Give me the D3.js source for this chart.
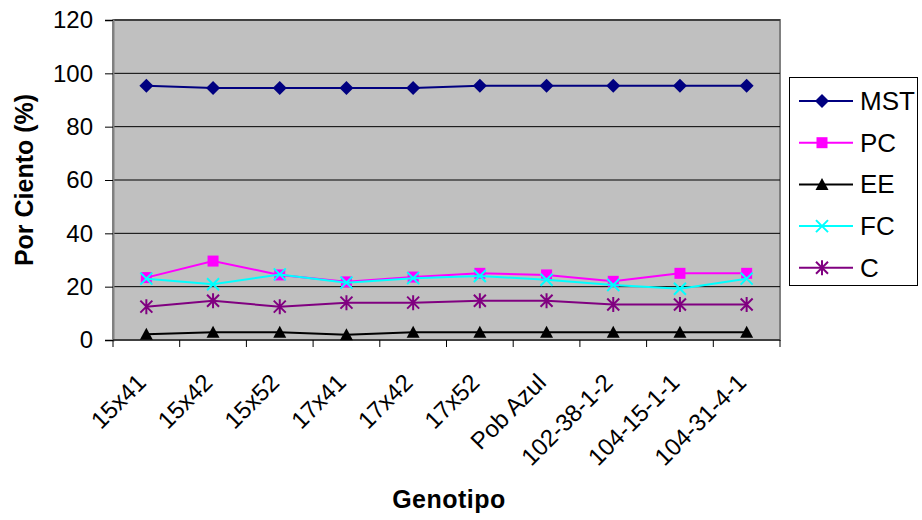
<!DOCTYPE html>
<html>
<head>
<meta charset="utf-8">
<script src="https://cdn.jsdelivr.net/npm/d3@7"></script>
<style>
  body { margin: 0; background: #fff; }
  svg { font-family: Arial, "Liberation Sans", sans-serif; }
</style>
</head>
<body>
<svg width="922" height="520"></svg>
<script>
const genotipos = ["15x41", "15x42", "15x52", "17x41", "17x42", "17x52", "Pob Azul", "102-38-1-2", "104-15-1-1", "104-31-4-1"];
const mst = [95.3, 94.5, 94.5, 94.5, 94.5, 95.3, 95.3, 95.3, 95.3, 95.3];
const pc = [23.4, 29.6, 24.4, 21.8, 23.6, 25.0, 24.4, 22.0, 25.0, 25.0];
const ee = [2.2, 2.9, 2.9, 2.0, 2.9, 2.9, 2.9, 2.9, 2.9, 2.9];
const fc = [23.0, 20.9, 24.6, 21.5, 23.2, 24.0, 22.6, 20.6, 19.2, 23.0];
const c = [12.5, 14.7, 12.5, 14.0, 14.0, 14.7, 14.7, 13.3, 13.3, 13.3];
const yTicks = [0, 20, 40, 60, 80, 100, 120];

const series = [
  { name: "MST", values: mst, color: "#000080", marker: "diamond" },
  { name: "PC", values: pc, color: "#ff00ff", marker: "square" },
  { name: "EE", values: ee, color: "#000000", marker: "triangle" },
  { name: "FC", values: fc, color: "#00ffff", marker: "x" },
  { name: "C", values: c, color: "#800080", marker: "star" }
];

const svg = d3.select("svg");
const plotLeft = 113, plotRight = 780, plotTop = 20, plotBottom = 340;

const x = d3.scaleBand().domain(genotipos).range([plotLeft, plotRight]);
const y = d3.scaleLinear().domain([0, 120]).range([plotBottom, plotTop]);
const cx = d => x(d) + x.bandwidth() / 2;

// plot area
svg.append("rect")
  .attr("x", plotLeft).attr("y", plotTop)
  .attr("width", plotRight - plotLeft).attr("height", plotBottom - plotTop)
  .attr("fill", "#c0c0c0")
  .attr("stroke", "#808080").attr("stroke-width", 2);

// gridlines
svg.append("g").selectAll("line")
  .data(yTicks.filter(d => d > 0))
  .join("line")
  .attr("x1", plotLeft).attr("x2", plotRight)
  .attr("y1", d => y(d)).attr("y2", d => y(d))
  .attr("stroke", "#000").attr("stroke-width", 1);

// y axis
const yAxis = svg.append("g")
  .attr("transform", `translate(${plotLeft},0)`)
  .call(d3.axisLeft(y).tickValues(yTicks).tickSize(8).tickPadding(12));
yAxis.select(".domain").attr("stroke", "#808080").attr("stroke-width", 2);
yAxis.selectAll(".tick line").attr("stroke", "#000");
yAxis.selectAll("text").attr("font-size", 24).attr("fill", "#000")
  .attr("font-family", "Arial, 'Liberation Sans', sans-serif");

// x axis: ticks between categories
const bounds = genotipos.map(g => x(g)).concat([plotRight]);
svg.append("line")
  .attr("x1", plotLeft).attr("x2", plotRight)
  .attr("y1", plotBottom).attr("y2", plotBottom)
  .attr("stroke", "#000").attr("stroke-width", 1);
svg.append("g").selectAll("line")
  .data(bounds)
  .join("line")
  .attr("x1", d => d).attr("x2", d => d)
  .attr("y1", plotBottom).attr("y2", plotBottom + 7)
  .attr("stroke", "#000");

svg.append("g").selectAll("text")
  .data(genotipos)
  .join("text")
  .attr("transform", d => `translate(${cx(d) + 1},${plotBottom + 44}) rotate(-45)`)
  .attr("text-anchor", "end")
  .attr("font-size", 24)
  .text(d => d);

// axis titles
svg.append("text")
  .attr("x", 449).attr("y", 508)
  .attr("text-anchor", "middle")
  .attr("font-size", 25).attr("font-weight", "bold")
  .attr("letter-spacing", 0.5)
  .text("Genotipo");
svg.append("text")
  .attr("transform", `translate(33,${(plotTop + plotBottom) / 2}) rotate(-90)`)
  .attr("text-anchor", "middle")
  .attr("font-size", 25).attr("font-weight", "bold")
  .text("Por Ciento (%)");

function drawMarker(g, type, color) {
  if (type === "diamond") {
    g.append("path").attr("d", "M0,-7L7,0L0,7L-7,0Z").attr("fill", color);
  } else if (type === "square") {
    g.append("rect").attr("x", -5.5).attr("y", -5.5).attr("width", 11).attr("height", 11).attr("fill", color);
  } else if (type === "triangle") {
    g.append("path").attr("d", "M0,-6.5L6.5,5.5L-6.5,5.5Z").attr("fill", color);
  } else if (type === "x") {
    g.append("path").attr("d", "M-6,-6L6,6M-6,6L6,-6")
      .attr("stroke", color).attr("stroke-width", 2);
  } else if (type === "star") {
    g.append("path").attr("d", "M-6,-6L6,6M-6,6L6,-6M0,-7.5L0,7.5")
      .attr("stroke", color).attr("stroke-width", 2);
  }
}

const line = d3.line()
  .x((d, i) => cx(genotipos[i]))
  .y(d => y(d));

series.forEach(s => {
  svg.append("path")
    .datum(s.values)
    .attr("d", line)
    .attr("fill", "none")
    .attr("stroke", s.color)
    .attr("stroke-width", 2);
  s.values.forEach((v, i) => {
    const g = svg.append("g")
      .attr("transform", `translate(${cx(genotipos[i])},${y(v)})`);
    drawMarker(g, s.marker, s.color);
  });
});

// legend
const legend = svg.append("g");
legend.append("rect")
  .attr("x", 789.5).attr("y", 77.5)
  .attr("width", 128).attr("height", 208)
  .attr("fill", "#fff").attr("stroke", "#000");
series.forEach((s, i) => {
  const ly = 101 + i * 41.7;
  legend.append("line")
    .attr("x1", 799).attr("x2", 853)
    .attr("y1", ly).attr("y2", ly)
    .attr("stroke", s.color).attr("stroke-width", 2);
  drawMarker(legend.append("g").attr("transform", `translate(822,${ly})`), s.marker, s.color);
  legend.append("text")
    .attr("x", 860).attr("y", ly + 9)
    .attr("font-size", 26)
    .text(s.name);
});
</script>
</body>
</html>
